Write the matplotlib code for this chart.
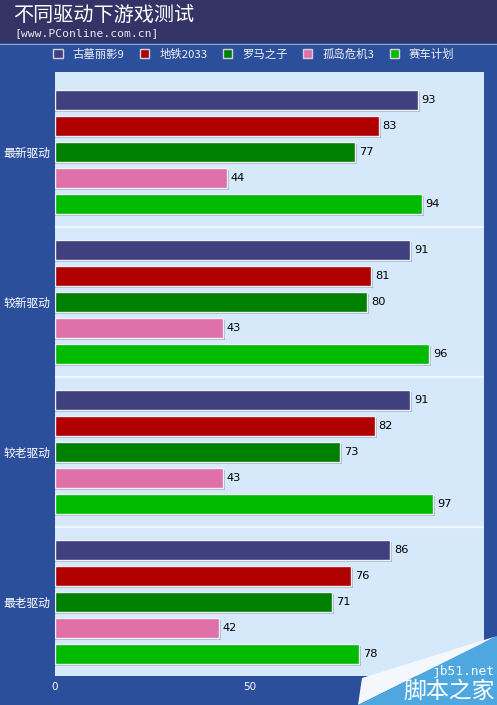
import matplotlib
matplotlib.use("Agg")
import matplotlib.pyplot as plt
from matplotlib.patches import Rectangle, Polygon

plt.rcParams['font.family'] = ['Noto Sans CJK SC', 'DejaVu Sans']

groups = ['最新驱动', '较新驱动', '较老驱动', '最老驱动']
series = ['古墓丽影9', '地铁2033', '罗马之子', '孤岛危机3', '赛车计划']
colors = ['#40407e', '#b00000', '#008000', '#e070a8', '#00bb00']
values = [
    [93, 91, 91, 86],   # 古墓丽影9
    [83, 81, 82, 76],   # 地铁2033
    [77, 80, 73, 71],   # 罗马之子
    [44, 43, 43, 42],   # 孤岛危机3
    [94, 96, 97, 78],   # 赛车计划
]
xticks = [0, 50]

W, H = 497, 705
fig = plt.figure(figsize=(W/100, H/100), dpi=100)
fig.patch.set_facecolor('#2c4f9c')

# header band
fig.patches.append(Rectangle((0, 1 - 43/H), 1, 43/H, transform=fig.transFigure,
                             facecolor='#343366', edgecolor='none', zorder=0))
fig.patches.append(Rectangle((0, 1 - 45/H), 1, 1.5/H, transform=fig.transFigure,
                             facecolor='#8fa6d8', edgecolor='none', zorder=0))
fig.text(13/W, 1 - 15/H, '不同驱动下游戏测试', color='white', fontsize=14.5,
         va='center', ha='left')
fig.text(14/W, 1 - 33/H, '[www.PConline.com.cn]', color='#e8e8f0', fontsize=8.2,
         va='center', ha='left', family=['DejaVu Sans Mono'])

ax_l, ax_r, ax_t, ax_b = 55, 484, 72, 676
ax = fig.add_axes([ax_l/W, 1 - ax_b/H, (ax_r-ax_l)/W, (ax_b-ax_t)/H])
ax.set_facecolor('#d6e9fb')
for s in ax.spines.values():
    s.set_visible(False)

slot = 26.0
gap = 150/slot
first = 28/slot
bh = 20/slot
total = (ax_b-ax_t)/slot
ax.set_ylim(total, 0)
xmax = (ax_r-ax_l)/((250-55)/50)
ax.set_xlim(0, xmax)

for si, (name, col) in enumerate(zip(series, colors)):
    ys = [first + g*gap + si for g in range(len(groups))]
    # shadow
    ax.barh([y + 0.06 for y in ys], [v + 0.5 for v in values[si]], height=bh,
            color='#a9b7c8', edgecolor='none', zorder=1)
    ax.barh(ys, values[si], height=bh, color=col, edgecolor='#eef0fa',
            linewidth=1.0, zorder=2, label=name)
    for y, v in zip(ys, values[si]):
        ax.text(v + 1.0, y, str(v), va='center', ha='left', fontsize=8.2,
                color='black', family=['DejaVu Sans'], zorder=3)

for g in range(1, len(groups)):
    yline = first + (g-1)*gap + 4 + (gap - 4)/2
    ax.axhline(yline, color='#eef5fd', linewidth=1.5, zorder=0.5)

ax.set_yticks([first + g*gap + 2 for g in range(len(groups))])
ax.set_yticklabels(groups, color='white', fontsize=8.5)
ax.set_xticks(xticks)
ax.set_xticklabels([str(t) for t in xticks], color='white', fontsize=7.5,
                   family=['DejaVu Sans'])
ax.tick_params(axis='y', length=0, pad=3)
ax.tick_params(axis='x', length=0, pad=4)

leg = fig.legend(loc='center', bbox_to_anchor=(254/W, 1 - 54/H), ncol=5,
                 frameon=False, fontsize=8.2, labelcolor='#f0f0f8',
                 handlelength=0.8, handleheight=0.8, handletextpad=0.9,
                 columnspacing=1.35)
for h in leg.legend_handles:
    h.set_edgecolor('#d0d0e0')
    h.set_linewidth(1.0)

# watermark
fig.patches.append(Polygon([(358/W, 0), (362/W, 1 - 678/H), (W/W, 1 - 636/H)],
                           closed=True, transform=fig.transFigure,
                           facecolor='#f4f8fc', edgecolor='none', zorder=5))
fig.patches.append(Polygon([(358/W, 0), (W/W, 0), (W/W, 1 - 636/H)],
                           closed=True, transform=fig.transFigure,
                           facecolor='#4ea8df', edgecolor='none', zorder=6))
fig.text(495/W, 1 - 671/H, 'jb51.net', color='white', fontsize=9.3, ha='right',
         va='center', family=['DejaVu Sans Mono'], zorder=7)
fig.text(495/W, 1 - 691/H, '脚本之家', color='white', fontsize=16.5, ha='right',
         va='center', zorder=7)

fig.savefig('out.png', dpi=100, facecolor=fig.get_facecolor())
